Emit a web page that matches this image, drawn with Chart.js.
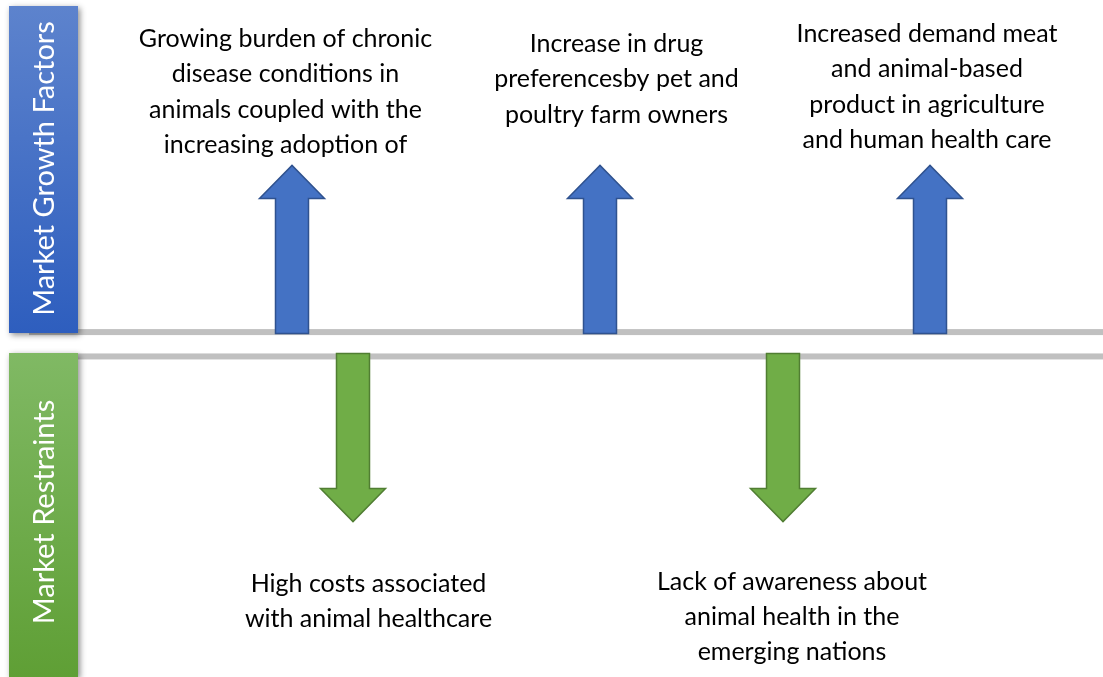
<!DOCTYPE html>
<html><head><meta charset="utf-8">
<script src="https://cdn.jsdelivr.net/npm/chart.js@4/dist/chart.umd.min.js"></script>
<style>html,body{margin:0;padding:0;background:#fff;overflow:hidden}#wrap{width:1103px;height:677px;position:relative}</style>
</head><body><div id="wrap"><canvas id="c" width="1103" height="677"></canvas></div>
<script>
// ---- Data ----
const sectionTitles = ['Market Growth Factors', 'Market Restraints'];
const growthFactors = [
  ['Growing burden of chronic', 'disease conditions in', 'animals coupled with the', 'increasing adoption of'],
  ['Increase in drug', 'preferencesby pet and', 'poultry farm owners'],
  ['Increased demand meat', 'and animal-based', 'product in agriculture', 'and human health care']
];
const restraints = [
  ['High costs associated', 'with animal healthcare'],
  ['Lack of awareness about', 'animal health in the', 'emerging nations']
];
const growthImpact = [1, 1, 1];      // upward arrows (positive impact)
const restraintImpact = [-1, -1];    // downward arrows (negative impact)

// ---- Layout (positions on the hidden axes) ----
const layout = {
  gap: 0.06,
  growthX: [292, 600, 930],
  restraintX: [353, 783],
  growthLabelX: [285.5, 616.5, 927],
  growthLabelY: [47, 52, 42],
  restraintLabelX: [368.5, 792],
  restraintLabelY: [592, 590],
  lineY: [0.068, -0.077],
  lineStartX: 29,
  boxX: [9, 78],
  boxY: [[6, 333], [353, 677]]
};

const font = 'Lato, "Open Sans", sans-serif';

const growthBars = growthImpact.map((v, i) => ({x: layout.growthX[i], y: [layout.gap, layout.gap + v]}));
const restraintBars = restraintImpact.map((v, i) => ({x: layout.restraintX[i], y: [-layout.gap, -layout.gap + v]}));

function drawArrow(ctx, x, tipY, baseY, shaftW, headW, headH, fill, stroke) {
  const dir = tipY < baseY ? -1 : 1;
  const hb = tipY - dir * headH;
  ctx.beginPath();
  ctx.moveTo(x - shaftW / 2, baseY);
  ctx.lineTo(x - shaftW / 2, hb);
  ctx.lineTo(x - headW / 2, hb);
  ctx.lineTo(x, tipY);
  ctx.lineTo(x + headW / 2, hb);
  ctx.lineTo(x + shaftW / 2, hb);
  ctx.lineTo(x + shaftW / 2, baseY);
  ctx.closePath();
  ctx.fillStyle = fill;
  ctx.fill();
  ctx.lineWidth = 1.5;
  ctx.strokeStyle = stroke;
  ctx.stroke();
}

const infoPlugin = {
  id: 'info',
  beforeDatasetsDraw(chart) {
    const {ctx, scales: {x, y}, chartArea} = chart;
    ctx.save();
    ctx.fillStyle = '#c0c0c0';
    layout.lineY.forEach(v => {
      const py = y.getPixelForValue(v);
      const x0 = x.getPixelForValue(layout.lineStartX);
      ctx.fillRect(x0, py - 3, chartArea.right - x0, 6);
    });
    const grads = [['#5d83cd', '#2e5ebe'], ['#80b964', '#5f9f35']];
    layout.boxY.forEach((b, i) => {
      const x0 = x.getPixelForValue(layout.boxX[0]), x1 = x.getPixelForValue(layout.boxX[1]);
      const g = ctx.createLinearGradient(0, b[0], 0, b[1]);
      g.addColorStop(0, grads[i][0]);
      g.addColorStop(1, grads[i][1]);
      ctx.save();
      ctx.shadowColor = 'rgba(0,0,0,0.45)';
      ctx.shadowBlur = 6;
      ctx.shadowOffsetX = 2;
      ctx.shadowOffsetY = 2;
      ctx.fillStyle = g;
      ctx.fillRect(x0, b[0], x1 - x0, b[1] - b[0]);
      ctx.restore();
      ctx.save();
      ctx.translate((x0 + x1) / 2 + 1, (b[0] + b[1]) / 2 - (i === 0 ? 1 : 3));
      ctx.rotate(-Math.PI / 2);
      ctx.fillStyle = '#ffffff';
      ctx.font = '29px ' + font;
      ctx.textAlign = 'center';
      ctx.textBaseline = 'middle';
      ctx.fillText(sectionTitles[i], 0, 0);
      ctx.restore();
    });
    ctx.restore();
  },
  afterDatasetsDraw(chart) {
    const {ctx, scales: {x}} = chart;
    ctx.save();
    const styles = [['#4472c4', '#2f528f'], ['#70ad47', '#507e32']];
    [0, 1].forEach(di => {
      const meta = chart.getDatasetMeta(di);
      meta.data.forEach(el => {
        const w = el.width;
        drawArrow(ctx, el.x, el.y, el.base, w, w * 1.97, w, styles[di][0], styles[di][1]);
      });
    });
    ctx.fillStyle = '#000';
    ctx.font = '25px ' + font;
    ctx.textAlign = 'center';
    ctx.textBaseline = 'alphabetic';
    growthFactors.forEach((lines, i) => {
      lines.forEach((t, j) => ctx.fillText(t, x.getPixelForValue(layout.growthLabelX[i]), layout.growthLabelY[i] + j * 35.3));
    });
    restraints.forEach((lines, i) => {
      lines.forEach((t, j) => ctx.fillText(t, x.getPixelForValue(layout.restraintLabelX[i]), layout.restraintLabelY[i] + j * 35));
    });
    ctx.restore();
  }
};

new Chart(document.getElementById('c'), {
  type: 'bar',
  data: {
    datasets: [
      {label: 'Growth factors', data: growthBars, backgroundColor: 'rgba(0,0,0,0)', borderWidth: 0},
      {label: 'Restraints', data: restraintBars, backgroundColor: 'rgba(0,0,0,0)', borderWidth: 0}
    ]
  },
  options: {
    responsive: false,
    animation: false,
    devicePixelRatio: 1,
    layout: {padding: 0},
    grouped: false,
    barThickness: 33,
    plugins: {legend: {display: false}, tooltip: {enabled: false}},
    scales: {
      x: {type: 'linear', min: 0, max: 1103, offset: false, display: false},
      y: {type: 'linear', min: -1.985, max: 2.0446, display: false}
    }
  },
  plugins: [infoPlugin]
});
</script>
</body></html>
